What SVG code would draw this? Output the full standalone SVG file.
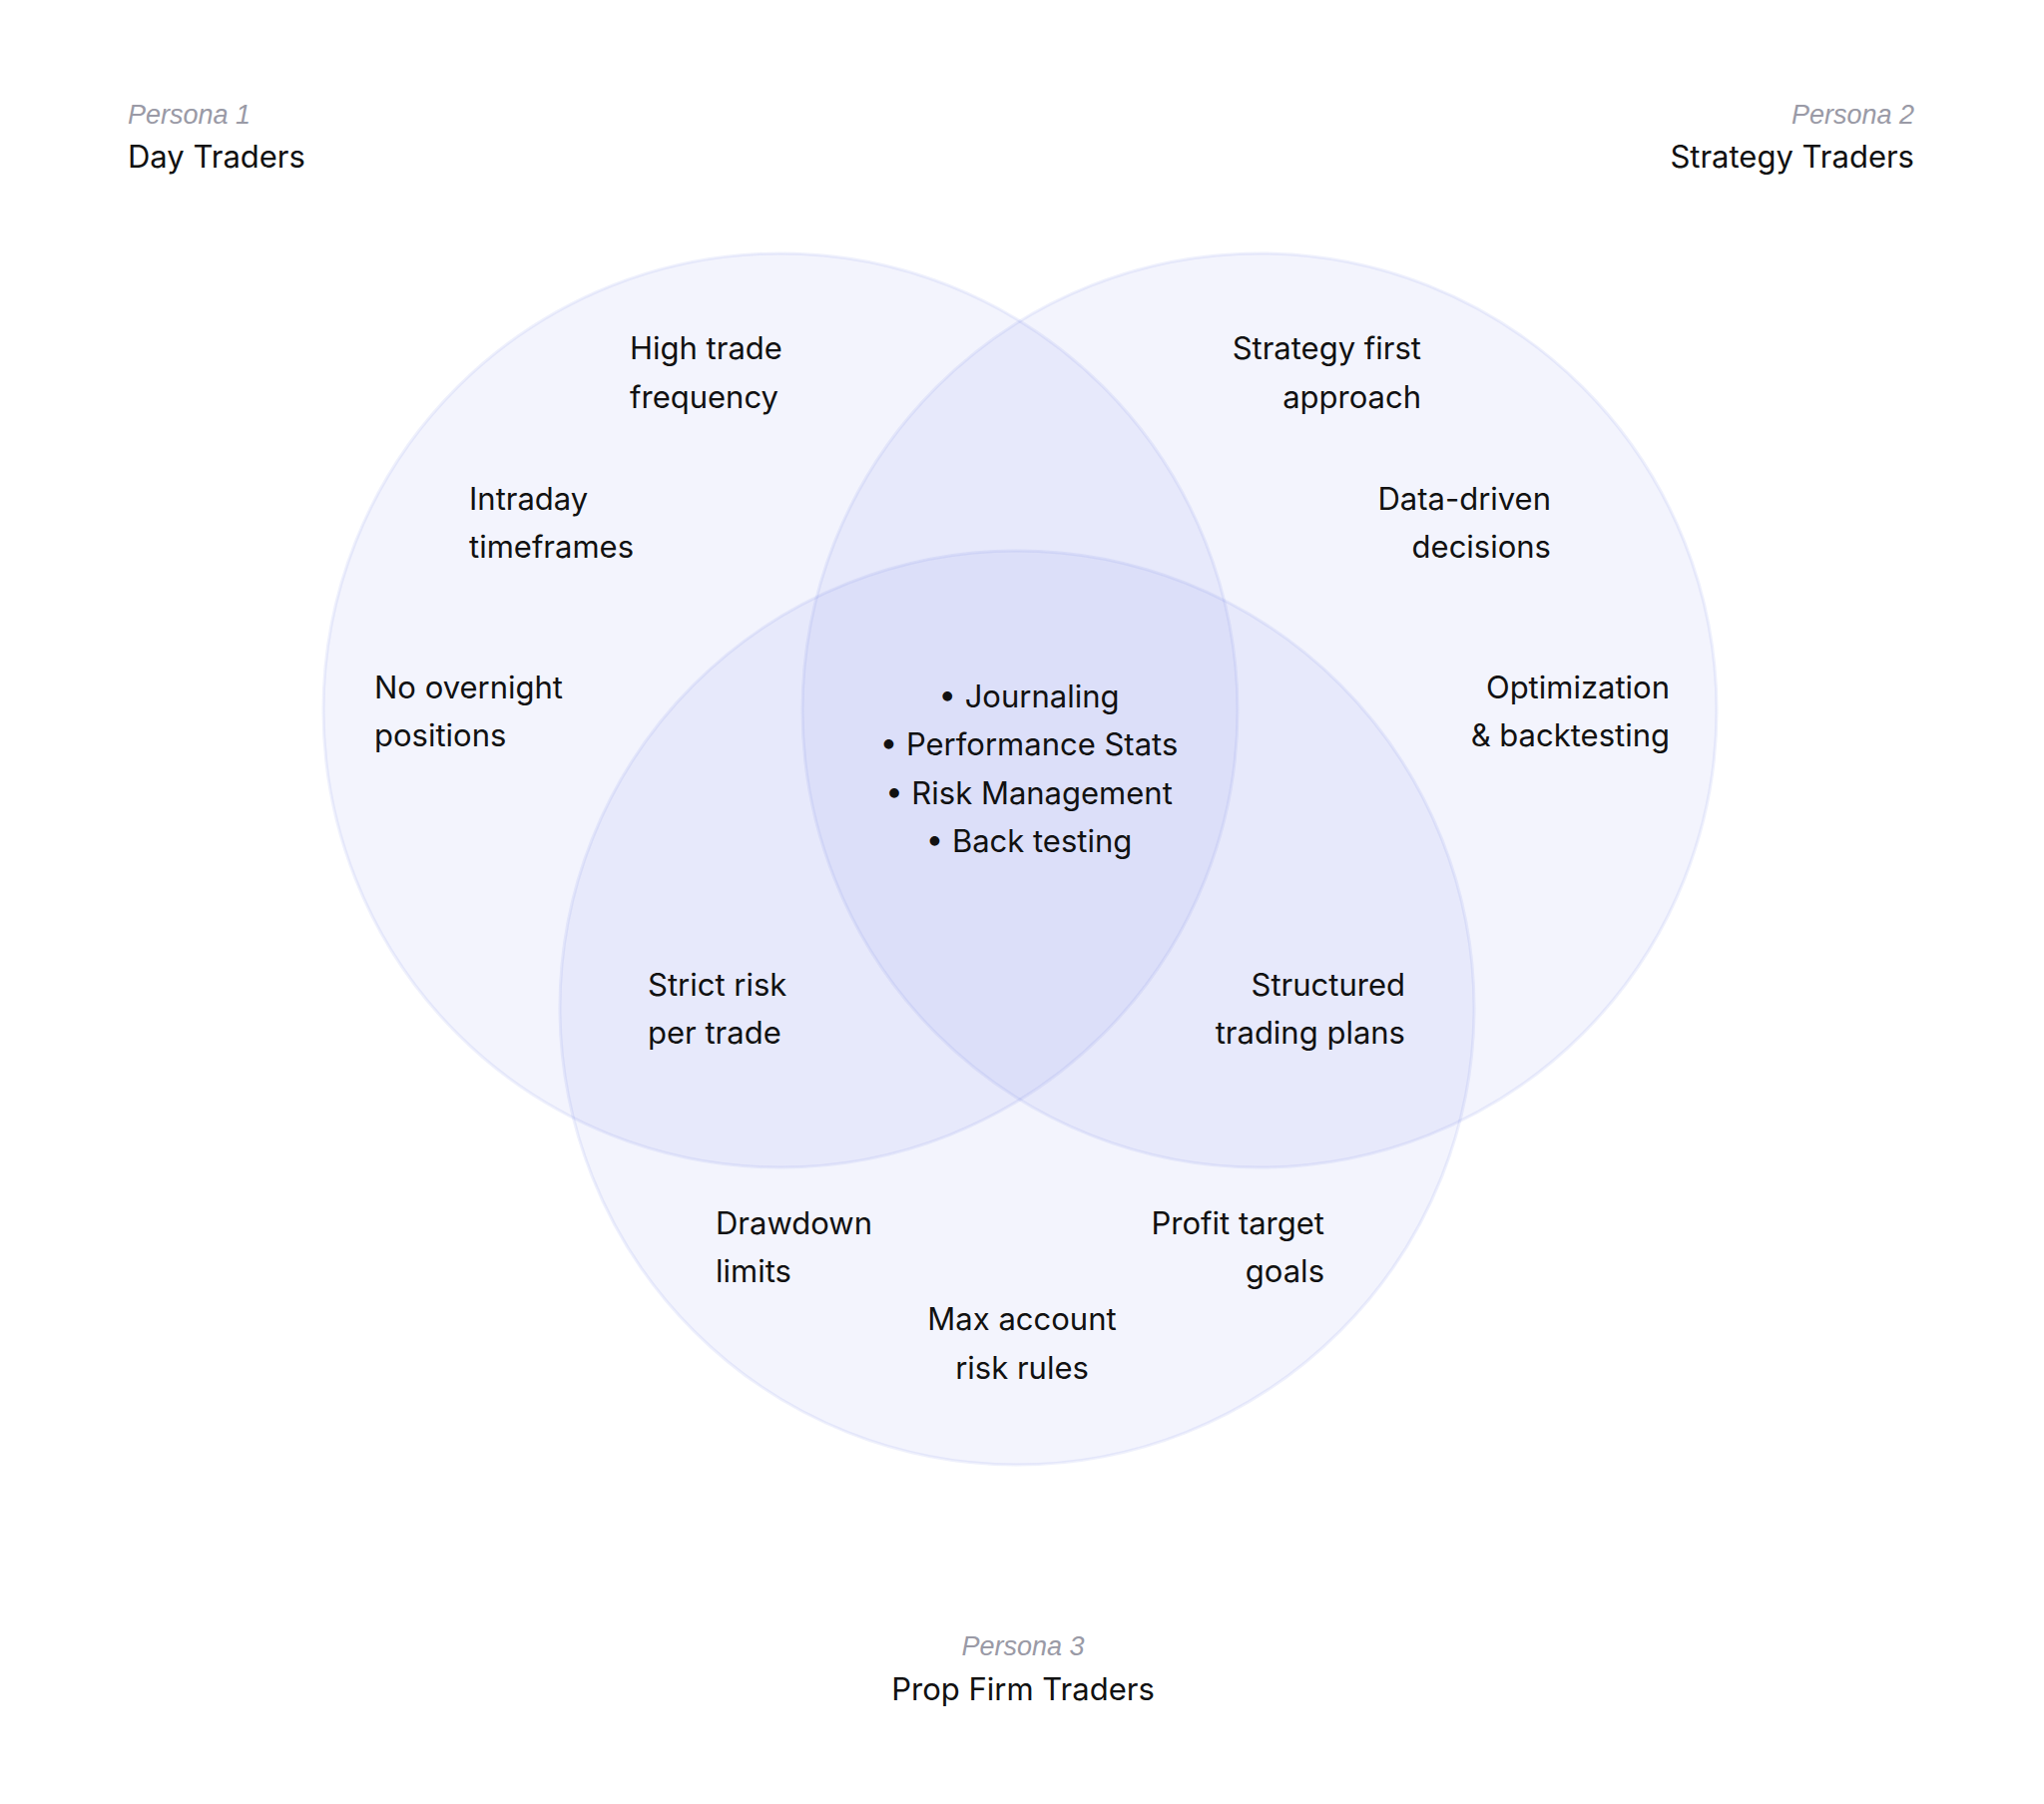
<svg xmlns="http://www.w3.org/2000/svg" width="2048" height="1808" viewBox="0 0 2048 1808">
<style>
.c{fill:#5a6fe0;fill-opacity:0.075;stroke:#5a6fe0;stroke-opacity:0.1;stroke-width:3}
text{font-family:Inter,"Noto Sans",sans-serif;font-size:31px;fill:#111}
.p{font-family:"Liberation Sans",sans-serif;font-style:italic;font-size:27px;fill:#9a9aa6;font-weight:300}
.r{text-anchor:end}.m{text-anchor:middle}
</style>
<rect width="2048" height="1808" fill="#fff"/>
<g id="circles">
<circle id="c1" class="c" cx="782" cy="712" r="458"/>
<circle id="c2" class="c" cx="1262" cy="712" r="458"/>
<circle id="c3" class="c" cx="1019" cy="1010" r="458"/>
</g>
<g id="connectors"/>
<g id="persona1"><text class="p" x="128" y="124">Persona 1</text><text x="128" y="168">Day Traders</text></g>
<g id="persona2"><text class="p r" x="1918" y="124">Persona 2</text><text class="r" x="1918" y="168">Strategy Traders</text></g>
<g id="persona3"><text class="p m" x="1025" y="1659">Persona 3</text><text class="m" x="1025" y="1704">Prop Firm Traders</text></g>
<g id="n1"><text x="631" y="360">High trade</text><text x="631" y="409">frequency</text></g>
<g id="n2"><text class="r" x="1424" y="360">Strategy first</text><text class="r" x="1424" y="409">approach</text></g>
<g id="n3"><text x="470" y="511">Intraday</text><text x="470" y="559">timeframes</text></g>
<g id="n4"><text class="r" x="1554" y="511">Data-driven</text><text class="r" x="1554" y="559">decisions</text></g>
<g id="n5"><text x="375" y="700">No overnight</text><text x="375" y="748">positions</text></g>
<g id="n6"><text class="r" x="1673" y="700">Optimization</text><text class="r" x="1673" y="748">&amp; backtesting</text></g>
<g id="center"><text class="m" x="1031" y="709">•  Journaling</text><text class="m" x="1031" y="757">•  Performance Stats</text><text class="m" x="1031" y="806">•  Risk Management</text><text class="m" x="1031" y="854">•  Back testing</text></g>
<g id="n7"><text x="649" y="998">Strict risk</text><text x="649" y="1046">per trade</text></g>
<g id="n8"><text class="r" x="1408" y="998">Structured</text><text class="r" x="1408" y="1046">trading plans</text></g>
<g id="n9"><text x="717" y="1237">Drawdown</text><text x="717" y="1285">limits</text></g>
<g id="n10"><text class="r" x="1327" y="1237">Profit target</text><text class="r" x="1327" y="1285">goals</text></g>
<g id="n11"><text class="m" x="1024" y="1333">Max account</text><text class="m" x="1024" y="1382">risk rules</text></g>
</svg>
